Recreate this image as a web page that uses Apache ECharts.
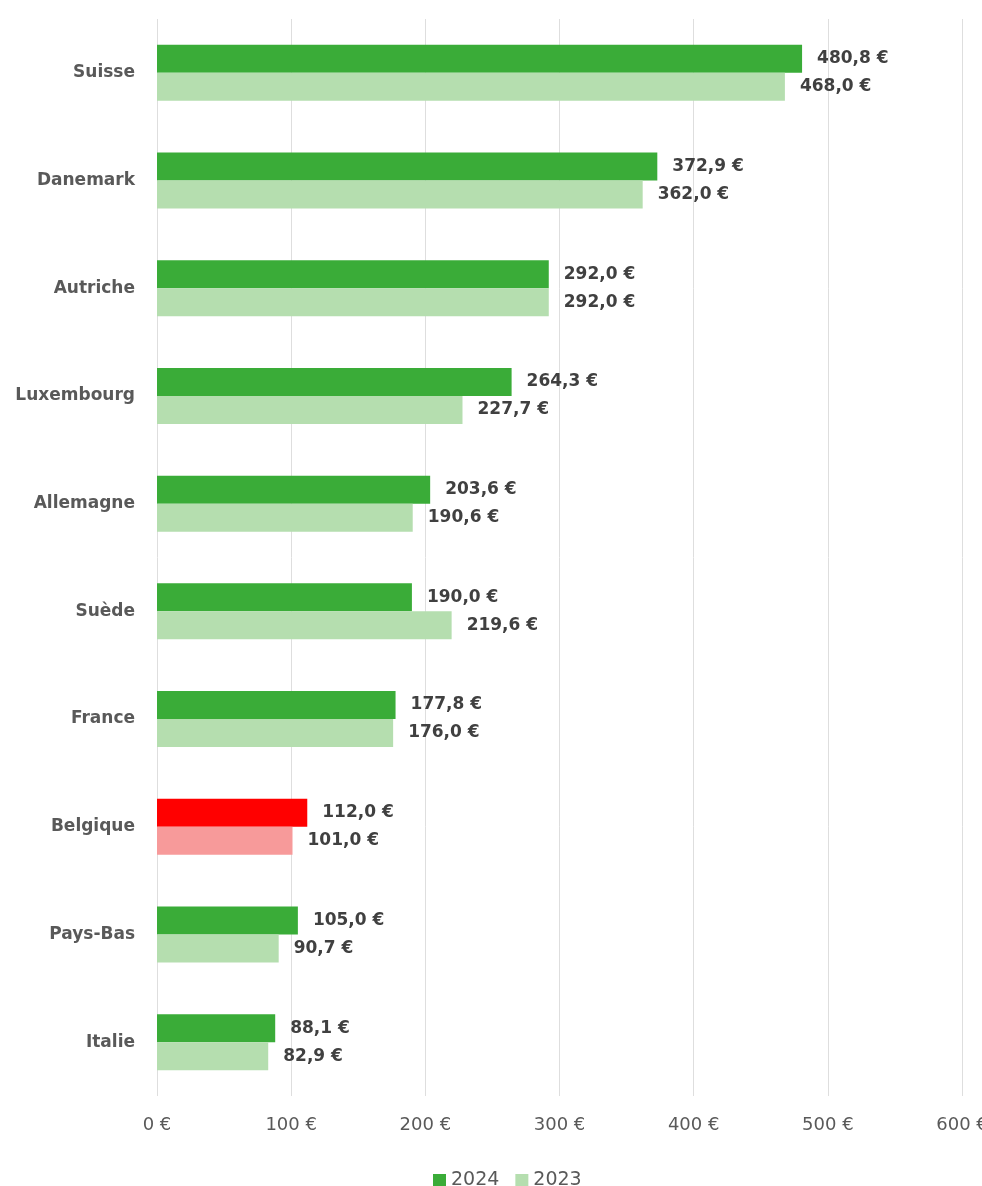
<!DOCTYPE html>
<html>
<head>
<meta charset="utf-8">
<script src="https://cdn.jsdelivr.net/npm/echarts@6/dist/echarts.min.js"></script>
<style>
  html, body { margin: 0; padding: 0; background: #fff; }
  #chart { width: 982px; height: 1186px; }
</style>
</head>
<body>
<div id="chart"></div>
<script>
// Categories listed bottom to top (category axis on y starts at the bottom)
const countries = ['Italie', 'Pays-Bas', 'Belgique', 'France', 'Suède', 'Allemagne', 'Luxembourg', 'Autriche', 'Danemark', 'Suisse'];
const values2024 = [88.1, 105.0, 112.0, 177.8, 190.0, 203.6, 264.3, 292.0, 372.9, 480.8];
const values2023 = [82.9, 90.7, 101.0, 176.0, 219.6, 190.6, 227.7, 292.0, 362.0, 468.0];
const xTicks = [0, 100, 200, 300, 400, 500, 600];
const highlight = 'Belgique';

const GREEN_DARK = '#3aac38';
const GREEN_LIGHT = '#b5deaf';
const RED_DARK = '#ff0000';
const RED_LIGHT = '#f79a9a';

const FONT = 'DejaVu Sans';
const fmt = v => v.toFixed(1).replace('.', ',') + ' €';

function barData(values, normal, special) {
  return values.map((v, i) => ({
    value: v,
    itemStyle: { color: countries[i] === highlight ? special : normal }
  }));
}

const labelStyle = {
  show: true,
  position: 'right',
  distance: 15,
  fontFamily: FONT,
  fontWeight: 'bold',
  fontSize: 17,
  color: '#404040',
  formatter: p => fmt(p.value)
};

const chart = echarts.init(document.getElementById('chart'));
chart.setOption({
  animation: false,
  backgroundColor: '#ffffff',
  grid: { left: 157, right: 20, top: 19, bottom: 90, containLabel: false, outerBoundsMode: 'none' },
  xAxis: {
    type: 'value',
    min: xTicks[0],
    max: xTicks[xTicks.length - 1],
    interval: 100,
    axisLine: { show: false },
    axisTick: { show: false },
    splitLine: { show: true, lineStyle: { color: '#dedede', width: 1 } },
    axisLabel: {
      margin: 20,
      fontFamily: FONT,
      fontSize: 18,
      color: '#595959',
      formatter: v => v + ' €'
    }
  },
  yAxis: {
    type: 'category',
    data: countries,
    axisLine: { show: false },
    axisTick: { show: false },
    axisLabel: {
      margin: 22,
      fontFamily: FONT,
      fontWeight: 'bold',
      fontSize: 17,
      color: '#595959'
    }
  },
  legend: {
    top: 1166,
    left: 428,
    itemWidth: 13,
    itemHeight: 13,
    itemGap: 16,
    icon: 'rect',
    textStyle: { fontFamily: FONT, fontSize: 19, color: '#595959' },
    data: ['2024', '2023']
  },
  series: [
    {
      name: '2024',
      type: 'bar',
      data: barData(values2024, GREEN_DARK, RED_DARK),
      itemStyle: { color: GREEN_DARK },
      barWidth: 28,
      barGap: '0%',
      label: labelStyle
    },
    {
      name: '2023',
      type: 'bar',
      data: barData(values2023, GREEN_LIGHT, RED_LIGHT),
      itemStyle: { color: GREEN_LIGHT },
      barWidth: 28,
      barGap: '0%',
      label: labelStyle
    }
  ]
});
</script>
</body>
</html>
